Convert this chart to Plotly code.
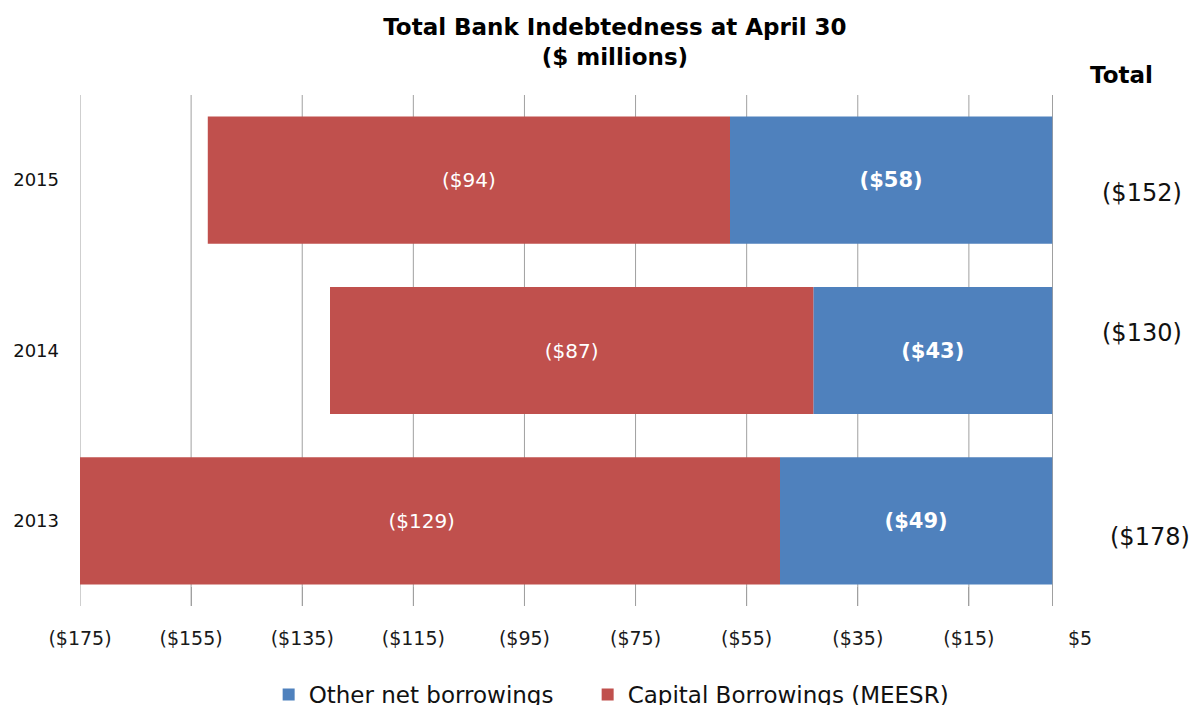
import plotly.graph_objects as go

# ---- data ($ millions, negative = indebtedness) ----
years = ["2013", "2014", "2015"]
other_net_borrowings = [-49, -43, -58]
capital_borrowings = [-129, -87, -94]

tick_vals = [-175, -155, -135, -115, -95, -75, -55, -35, -15, 5]
tick_text = ["($175)", "($155)", "($135)", "($115)", "($95)",
             "($75)", "($55)", "($35)", "($15)", "$5"]

BLUE = "#4F81BD"
RED = "#C0504D"
GRID = "#A0A0A0"
FONT = "DejaVu Sans"


def money(v):
    return f"(${-v})" if v < 0 else f"${v}"


totals = [o + c for o, c in zip(other_net_borrowings, capital_borrowings)]

fig = go.Figure()

fig.add_trace(go.Bar(
    y=years, x=other_net_borrowings, orientation="h",
    name="Other net borrowings", legendwidth=274,
    marker=dict(color=BLUE, line=dict(width=0)),
    text=[money(v) for v in other_net_borrowings],
    textposition="inside", insidetextanchor="middle", textangle=0,
    textfont=dict(family=FONT, size=21, color="white", weight="bold"),
))

fig.add_trace(go.Bar(
    y=years, x=capital_borrowings, orientation="h",
    name="Capital Borrowings (MEESR)", legendwidth=360,
    marker=dict(color=RED, line=dict(width=0)),
    text=[money(v) for v in capital_borrowings],
    textposition="inside", insidetextanchor="middle", textangle=0,
    textfont=dict(family=FONT, size=20, color="white"),
))

x_range = [-175, 5]

# vertical gridlines at every tick inside the plot (not at the right edge)
shapes = [
    dict(type="line", xref="x", yref="paper", x0=v, x1=v, y0=0, y1=1,
         line=dict(color=GRID, width=1), layer="below")
    for v in tick_vals if v < x_range[1]
]

# total indebtedness labels to the right of the bars (placed by category index)
total_x = [1.070, 1.062, 1.062]
total_shift = [-16, 18, -13]
annotations = [
    dict(text=money(t), xref="paper", yref="y", x=xp, y=i, yshift=sh,
         showarrow=False, xanchor="center", yanchor="middle",
         font=dict(family=FONT, size=24, color="#111111"))
    for i, (t, xp, sh) in enumerate(zip(totals, total_x, total_shift))
]
annotations.append(dict(
    text="<b>Total</b>", xref="paper", yref="paper", x=1.041, y=1.039,
    showarrow=False, xanchor="center", yanchor="middle",
    font=dict(family=FONT, size=23, color="#000000"),
))

fig.update_layout(
    width=1194, height=705, autosize=False,
    margin=dict(l=80, r=114, t=95, b=99),
    paper_bgcolor="white", plot_bgcolor="white",
    barmode="relative", bargap=0.253,
    title=dict(
        text="<b>Total Bank Indebtedness at April 30<br>($ millions)</b>",
        xref="container", yref="container", x=0.515, y=0.950,
        xanchor="center", yanchor="top",
        font=dict(family=FONT, size=23, color="#000000"),
    ),
    xaxis=dict(
        range=x_range, tickvals=tick_vals, ticktext=tick_text,
        showgrid=False, zeroline=True, zerolinecolor=GRID, zerolinewidth=1,
        ticks="inside", ticklen=19, tickcolor=GRID, tickwidth=1,
        showline=False, ticklabelstandoff=19,
        tickfont=dict(family=FONT, size=19, color="#1a1a1a"),
    ),
    yaxis=dict(
        type="category", categoryorder="array", categoryarray=years,
        range=[-0.5, len(years) - 0.5],
        showgrid=False, zeroline=False, showline=False, ticks="",
        ticklabelstandoff=20,
        tickfont=dict(family=FONT, size=18, color="#111111"),
    ),
    legend=dict(
        orientation="h", xref="container", yref="container",
        x=0.225, y=0.015, xanchor="left", yanchor="middle",
        font=dict(family=FONT, size=23, color="#111111"),
        traceorder="normal",
    ),
    shapes=shapes,
    annotations=annotations,
)

fig.write_html("out.html")
